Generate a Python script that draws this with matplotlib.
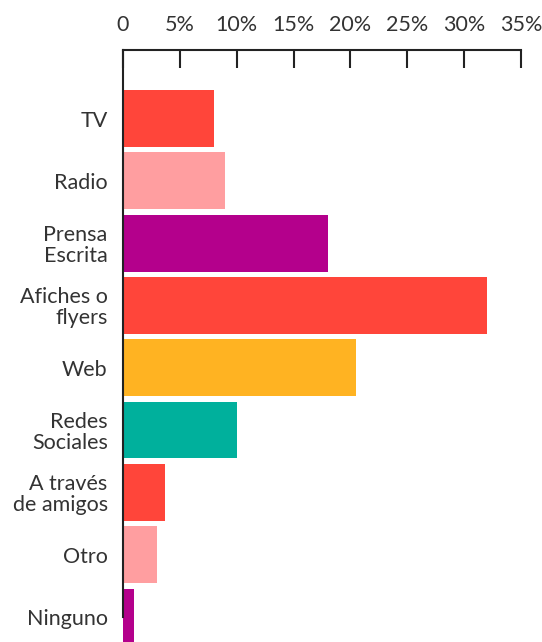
import matplotlib
matplotlib.use("Agg")
import matplotlib.pyplot as plt

categories = ["TV", "Radio", "Prensa\nEscrita", "Afiches o\nflyers", "Web",
              "Redes\nSociales", "A través\nde amigos", "Otro", "Ninguno"]
values = [8.0, 9.0, 18.0, 32.0, 20.5, 10.0, 3.7, 3.0, 1.0]
colors = ["#FF453A", "#FF9EA0", "#B4008C", "#FF453A", "#FFB322",
          "#00B09C", "#FF453A", "#FF9EA0", "#B4008C"]
xticks = [0, 5, 10, 15, 20, 25, 30, 35]
xticklabels = ["0", "5%", "10%", "15%", "20%", "25%", "30%", "35%"]

plt.rcParams['font.family'] = ['Lato', 'DejaVu Sans']

W, H = 542, 642
fig = plt.figure(figsize=(W / 100, H / 100), dpi=100)
left, right, top, bottom = 123, 521, 50, 617
ax = fig.add_axes([left / W, 1 - bottom / H, (right - left) / W, (bottom - top) / H])

pos = list(range(len(categories)))
ax.barh(pos, values, height=0.91, color=colors, clip_on=False, zorder=1)
ax.set_ylim(8.0, -1.1)
ax.set_xlim(0, 35)
ax.set_yticks(pos)
ax.set_yticklabels(categories, fontsize=15.5, color="#333333", linespacing=1.05)
ax.tick_params(axis='y', length=0, pad=11)
ax.xaxis.tick_top()
ax.set_xticks(xticks)
ax.set_xticklabels(xticklabels, fontsize=15.5, color="#333333")
ax.tick_params(axis='x', direction='in', length=13, width=1.5, color="#222222", pad=11)

for s in ["right", "bottom"]:
    ax.spines[s].set_visible(False)
for s in ["left", "top"]:
    ax.spines[s].set_linewidth(1.5)
    ax.spines[s].set_color("#222222")
    ax.spines[s].set_zorder(3)

fig.savefig("out.png", dpi=100)
